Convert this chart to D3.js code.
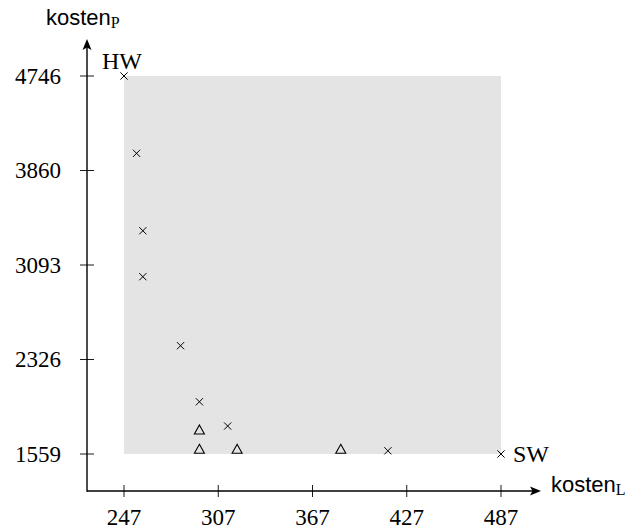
<!DOCTYPE html>
<html>
<head>
<meta charset="utf-8">
<script src="https://cdn.jsdelivr.net/npm/d3@7"></script>
<style>
  html, body { margin: 0; padding: 0; background: #fff; }
  svg { display: block; }
</style>
</head>
<body>
<svg id="chart" width="642" height="529"></svg>
<script>
// ---- data ----
const xTicks = [247, 307, 367, 427, 487];
const yTicks = [1559, 2326, 3093, 3860, 4746];
const crossX = [247, 255, 259, 259, 283, 295, 313, 415, 487];
const crossY = [4746, 4021, 3371, 2998, 2438, 1983, 1786, 1585, 1559];
const triX = [295, 295, 319, 385];
const triY = [1754, 1597, 1597, 1597];
const labelHW = "HW";
const labelSW = "SW";

// ---- layout ----
const svg = d3.select("#chart");
const axisX0 = 87, axisY0 = 491;
const plotL = 124, plotR = 501, plotT = 76, plotB = 454;

const x = d3.scaleLinear().domain([xTicks[0], xTicks[xTicks.length - 1]]).range([plotL, plotR]);
// tick marks equally spaced -> piecewise linear scale
const yRange = yTicks.map((d, i) => plotB - (plotB - plotT) * i / (yTicks.length - 1));
const y = d3.scaleLinear().domain(yTicks).range(yRange);

// grey region
svg.append("rect")
  .attr("x", x(xTicks[0])).attr("y", y(yTicks[yTicks.length - 1]))
  .attr("width", x(xTicks[xTicks.length - 1]) - x(xTicks[0]))
  .attr("height", y(yTicks[0]) - y(yTicks[yTicks.length - 1]))
  .attr("fill", "#e4e4e4");

// axes lines
svg.append("line").attr("x1", axisX0).attr("y1", axisY0).attr("x2", 536).attr("y2", axisY0)
  .attr("stroke", "#000").attr("stroke-width", 1.4);
svg.append("line").attr("x1", axisX0).attr("y1", axisY0 + 0.7).attr("x2", axisX0).attr("y2", 45)
  .attr("stroke", "#000").attr("stroke-width", 1.4);
// arrow heads
svg.append("path").attr("d", `M541,${axisY0} L530,${axisY0 - 4.5} L532.5,${axisY0} L530,${axisY0 + 4.5} Z`).attr("fill", "#000");
svg.append("path").attr("d", `M${axisX0},39 L${axisX0 - 4.5},50 L${axisX0},47.5 L${axisX0 + 4.5},50 Z`).attr("fill", "#000");

// x ticks
const serif = "'Liberation Serif', 'DejaVu Serif', serif";
const sans = "'Liberation Sans', 'DejaVu Sans', sans-serif";
xTicks.forEach(t => {
  svg.append("line").attr("x1", x(t)).attr("x2", x(t)).attr("y1", axisY0 - 6).attr("y2", axisY0 + 6)
    .attr("stroke", "#000").attr("stroke-width", 0.9);
  svg.append("text").attr("x", x(t)).attr("y", 525).attr("text-anchor", "middle")
    .attr("font-family", serif).attr("font-size", 23).text(t);
});
yTicks.forEach(t => {
  svg.append("line").attr("x1", axisX0 - 7).attr("x2", axisX0 + 7).attr("y1", y(t)).attr("y2", y(t))
    .attr("stroke", "#000").attr("stroke-width", 0.9);
  svg.append("text").attr("x", 61).attr("y", y(t)).attr("dy", "0.34em").attr("text-anchor", "end")
    .attr("font-family", serif).attr("font-size", 23).text(t);
});

// axis labels
const yl = svg.append("text").attr("x", 46).attr("y", 25).attr("font-family", sans).attr("font-size", 22);
yl.append("tspan").text("kosten");
yl.append("tspan").attr("font-family", serif).attr("font-size", 16).attr("dy", 3).text("P");
const xl = svg.append("text").attr("x", 551).attr("y", 492).attr("font-family", sans).attr("font-size", 22);
xl.append("tspan").text("kosten");
xl.append("tspan").attr("font-family", serif).attr("font-size", 16).attr("dy", 3).text("L");

// crosses
const cs = 3.6;
crossX.forEach((cx, i) => {
  const px = x(cx), py = y(crossY[i]);
  svg.append("path")
    .attr("d", `M${px - cs},${py - cs} L${px + cs},${py + cs} M${px - cs},${py + cs} L${px + cs},${py - cs}`)
    .attr("stroke", "#000").attr("stroke-width", 1).attr("fill", "none");
});
// triangles
triX.forEach((tx, i) => {
  const px = x(tx), py = y(triY[i]);
  svg.append("path")
    .attr("d", `M${px},${py - 5} L${px + 5},${py + 4} L${px - 5},${py + 4} Z`)
    .attr("stroke", "#000").attr("stroke-width", 1.1).attr("fill", "none");
});

// point labels
svg.append("text").attr("x", x(crossX[0]) - 22).attr("y", y(crossY[0]) - 7)
  .attr("font-family", serif).attr("font-size", 24).text(labelHW);
svg.append("text").attr("x", x(crossX[crossX.length - 1]) + 12).attr("y", y(crossY[crossY.length - 1]) + 8)
  .attr("font-family", serif).attr("font-size", 24).text(labelSW);
</script>
</body>
</html>
